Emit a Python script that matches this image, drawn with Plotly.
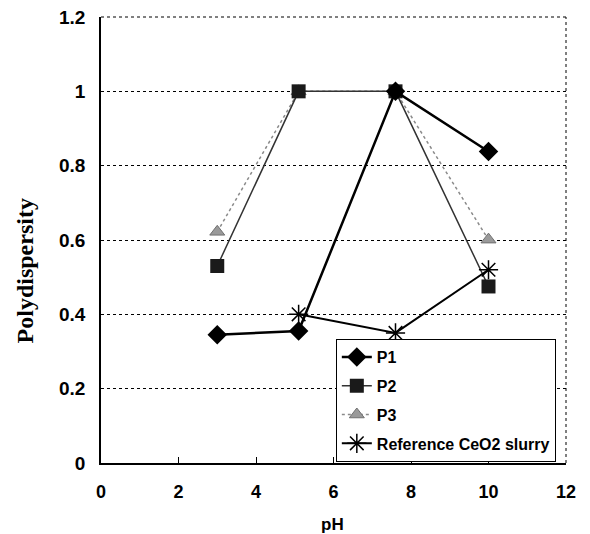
import plotly.graph_objects as go

ph_p = [3, 5.1, 7.6, 10]
p1 = [0.345, 0.355, 1.0, 0.838]
p2 = [0.53, 1.0, 1.0, 0.475]
p3 = [0.622, 1.0, 1.0, 0.601]
ph_ref = [5.1, 7.6, 10]
ref = [0.40, 0.35, 0.52]

x_ticks = [0, 2, 4, 6, 8, 10, 12]
y_ticks = [0, 0.2, 0.4, 0.6, 0.8, 1, 1.2]
y_labels = ["0", "0.2", "0.4", "0.6", "0.8", "1", "1.2"]

FONT = "Liberation Sans Narrow, Arial Narrow, Liberation Sans, Arial"

fig = go.Figure()
fig.add_trace(go.Scatter(x=ph_p, y=p3, name="P3", mode="lines+markers", legendgroup="c", legendrank=3,
                         line=dict(color="#8a8a8a", width=1.5, dash="dot"),
                         marker=dict(symbol="triangle-up", size=13, color="#9a9a9a", line=dict(color="#707070", width=1))))
fig.add_trace(go.Scatter(x=ph_p, y=p2, name="P2", mode="lines+markers", legendgroup="b", legendrank=2,
                         line=dict(color="#333333", width=1.5),
                         marker=dict(symbol="square", size=14, color="#1a1a1a")))
fig.add_trace(go.Scatter(x=ph_p, y=p1, name="P1", mode="lines+markers", legendgroup="a", legendrank=1,
                         line=dict(color="black", width=2.5),
                         marker=dict(symbol="diamond", size=15, color="black")))
fig.add_trace(go.Scatter(x=ph_ref, y=ref, name="Reference CeO2 slurry", mode="lines+markers", legendgroup="d", legendrank=4,
                         line=dict(color="black", width=2),
                         marker=dict(symbol="asterisk-open", size=16, color="black", line=dict(color="black", width=1.5))))

fig.update_layout(
    width=590, height=534,
    margin=dict(l=101, r=24, t=17, b=71),
    paper_bgcolor="white", plot_bgcolor="white",
    font=dict(family=FONT, color="black"),
    legend=dict(x=0.505, y=0.278, xanchor="left", yanchor="top",
                bgcolor="white", bordercolor="black", borderwidth=1,
                font=dict(family=FONT, size=16, weight="bold"),
                tracegroupgap=5, traceorder="grouped"),
    xaxis=dict(range=[0, 12], tickvals=x_ticks, ticks="inside", ticklen=6, tickcolor="black",
               showline=True, linecolor="black", linewidth=1.5, showgrid=False, zeroline=False,
               tickfont=dict(family=FONT, size=18, weight="bold"), ticklabelstandoff=12,
               automargin=False),
    yaxis=dict(range=[0, 1.2], tickvals=y_ticks, ticktext=y_labels, ticks="",
               showline=True, linecolor="black", linewidth=1.5, zeroline=False,
               showgrid=True, gridcolor="black", griddash="dot", gridwidth=1,
               tickfont=dict(family=FONT, size=19, weight="bold"), ticklabelstandoff=10,
               automargin=False),
)
fig.add_annotation(text="Polydispersity", xref="paper", yref="paper", x=-0.163, y=0.43,
                   xanchor="center", yanchor="middle", textangle=-90, showarrow=False,
                   font=dict(family="Liberation Serif, Times New Roman, serif", size=24, weight="bold", color="black"))
fig.add_annotation(text="pH", xref="paper", yref="paper", x=0.497, y=-0.139,
                   xanchor="center", yanchor="middle", showarrow=False,
                   font=dict(family=FONT, size=17, weight="bold", color="black"))
fig.add_shape(type="line", xref="paper", yref="paper", x0=1, x1=1, y0=0, y1=1,
              line=dict(color="black", width=1, dash="dot"))
fig.add_shape(type="line", xref="paper", yref="paper", x0=0, x1=1, y0=1, y1=1,
              line=dict(color="black", width=1, dash="dot"))

fig.write_html("out.html")
